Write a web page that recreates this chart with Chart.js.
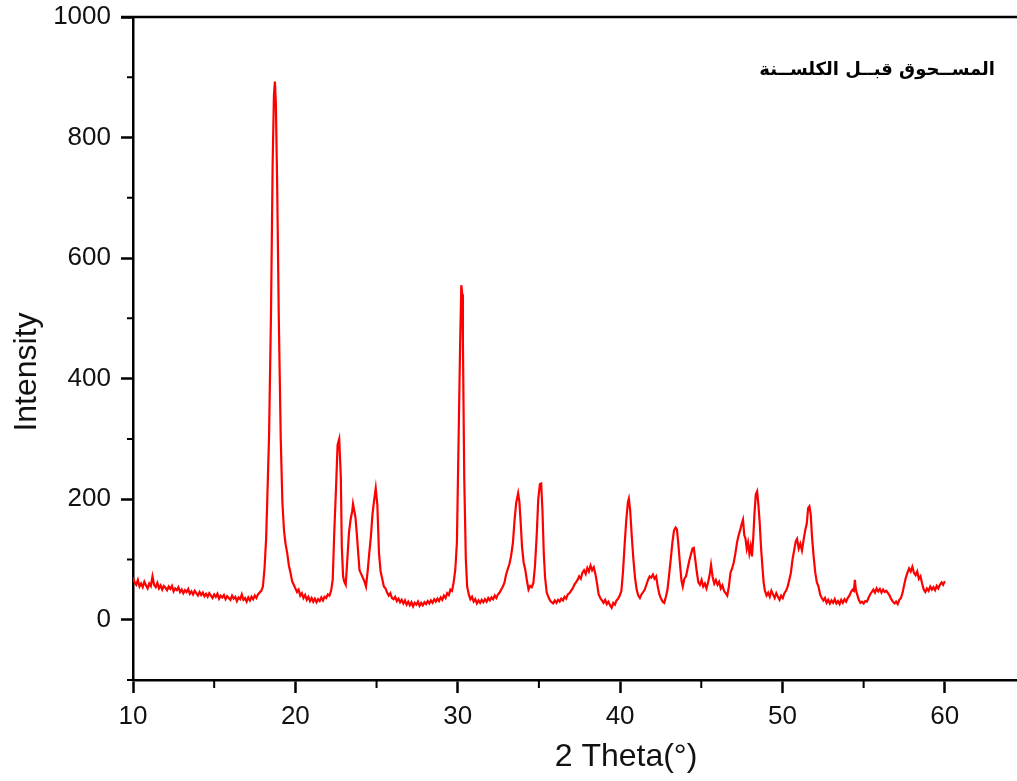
<!DOCTYPE html>
<html>
<head>
<meta charset="utf-8">
<title>XRD</title>
<script src="https://cdn.jsdelivr.net/npm/chart.js@4.4.0/dist/chart.umd.min.js"></script>
<style>
    html, body { margin: 0; padding: 0; background: #fff; overflow: hidden; }
    #wrap { width: 1040px; height: 781px; }
</style>
</head>
<body>
<div id="wrap"><canvas id="xrd" width="1040" height="781"></canvas></div>
<script>
// diffraction pattern: 2-theta (deg) and counts
const twoTheta = [
    10.0, 10.1, 10.2, 10.3, 10.4, 10.5, 10.6, 10.7, 10.8, 10.9,
    11.0, 11.1, 11.2, 11.3, 11.4, 11.5, 11.6, 11.7, 11.8, 11.9,
    12.0, 12.1, 12.2, 12.3, 12.4, 12.5, 12.6, 12.7, 12.8, 12.9,
    13.0, 13.1, 13.2, 13.3, 13.4, 13.5, 13.6, 13.7, 13.8, 13.9,
    14.0, 14.1, 14.2, 14.3, 14.4, 14.5, 14.6, 14.7, 14.8, 14.9,
    15.0, 15.1, 15.2, 15.3, 15.4, 15.5, 15.6, 15.7, 15.8, 15.9,
    16.0, 16.1, 16.2, 16.3, 16.4, 16.5, 16.6, 16.7, 16.8, 16.9,
    17.0, 17.1, 17.2, 17.3, 17.4, 17.5, 17.6, 17.7, 17.8, 17.9,
    18.0, 18.1, 18.2, 18.26, 18.38, 18.5, 18.6, 18.68, 18.74, 18.8,
    18.88, 18.98, 19.1, 19.2, 19.3, 19.4, 19.5, 19.6, 19.7, 19.8,
    19.9, 20.0, 20.1, 20.2, 20.3, 20.4, 20.5, 20.6, 20.7, 20.8,
    20.9, 21.0, 21.1, 21.2, 21.3, 21.4, 21.5, 21.6, 21.7, 21.8,
    21.9, 22.0, 22.1, 22.2, 22.3, 22.4, 22.5, 22.6, 22.7, 22.8,
    22.86, 22.94, 23.0, 23.1, 23.2, 23.3, 23.4, 23.5, 23.55, 23.62,
    23.7, 23.78, 23.87, 23.95, 24.05, 24.15, 24.25, 24.35, 24.45, 24.55,
    24.65, 24.75, 24.85, 24.95, 25.05, 25.15, 25.25, 25.35, 25.45, 25.55,
    25.65, 25.75, 25.85, 25.95, 26.05, 26.15, 26.25, 26.35, 26.45, 26.55,
    26.65, 26.75, 26.85, 26.95, 27.05, 27.15, 27.25, 27.35, 27.45, 27.55,
    27.65, 27.75, 27.85, 27.95, 28.05, 28.15, 28.25, 28.35, 28.45, 28.55,
    28.65, 28.75, 28.85, 28.95, 29.05, 29.15, 29.25, 29.35, 29.45, 29.55,
    29.65, 29.75, 29.85, 29.95, 30.05, 30.15, 30.22, 30.28, 30.32, 30.4,
    30.5, 30.58, 30.68, 30.78, 30.88, 30.98, 31.08, 31.18, 31.28, 31.38,
    31.48, 31.58, 31.68, 31.78, 31.88, 31.98, 32.08, 32.18, 32.28, 32.38,
    32.48, 32.58, 32.68, 32.78, 32.88, 32.98, 33.08, 33.18, 33.28, 33.4,
    33.5, 33.6, 33.72, 33.8, 33.88, 33.96, 34.06, 34.16, 34.26, 34.36,
    34.46, 34.56, 34.66, 34.76, 34.86, 34.96, 35.06, 35.14, 35.22, 35.3,
    35.38, 35.48, 35.58, 35.68, 35.78, 35.88, 35.98, 36.08, 36.18, 36.28,
    36.38, 36.48, 36.58, 36.68, 36.78, 36.88, 36.98, 37.08, 37.18, 37.28,
    37.38, 37.48, 37.58, 37.68, 37.78, 37.88, 37.98, 38.08, 38.18, 38.28,
    38.38, 38.48, 38.58, 38.68, 38.78, 38.88, 38.98, 39.08, 39.18, 39.28,
    39.38, 39.48, 39.58, 39.68, 39.78, 39.88, 39.98, 40.08, 40.18, 40.28,
    40.38, 40.48, 40.54, 40.62, 40.72, 40.82, 40.92, 41.02, 41.12, 41.22,
    41.32, 41.42, 41.52, 41.62, 41.72, 41.82, 41.92, 42.02, 42.12, 42.22,
    42.32, 42.42, 42.52, 42.62, 42.72, 42.82, 42.92, 43.02, 43.12, 43.22,
    43.32, 43.42, 43.5, 43.58, 43.68, 43.78, 43.86, 43.96, 44.06, 44.16,
    44.26, 44.36, 44.46, 44.54, 44.62, 44.72, 44.82, 44.92, 45.02, 45.12,
    45.22, 45.32, 45.42, 45.52, 45.6, 45.7, 45.8, 45.9, 46.0, 46.1,
    46.2, 46.3, 46.4, 46.5, 46.6, 46.7, 46.8, 46.9, 47.0, 47.1,
    47.2, 47.3, 47.4, 47.5, 47.57, 47.65, 47.72, 47.8, 47.88, 47.96,
    48.04, 48.12, 48.2, 48.28, 48.36, 48.44, 48.52, 48.6, 48.68, 48.76,
    48.84, 48.92, 49.02, 49.12, 49.22, 49.32, 49.42, 49.52, 49.62, 49.72,
    49.82, 49.92, 50.02, 50.12, 50.22, 50.32, 50.42, 50.52, 50.62, 50.72,
    50.82, 50.9, 51.0, 51.1, 51.2, 51.3, 51.4, 51.5, 51.58, 51.66,
    51.74, 51.82, 51.92, 52.02, 52.12, 52.22, 52.32, 52.42, 52.52, 52.62,
    52.72, 52.82, 52.92, 53.02, 53.12, 53.22, 53.32, 53.42, 53.52, 53.62,
    53.72, 53.82, 53.92, 54.02, 54.12, 54.22, 54.32, 54.4, 54.46, 54.52,
    54.6, 54.7, 54.8, 54.9, 55.0, 55.1, 55.2, 55.3, 55.4, 55.5,
    55.6, 55.7, 55.8, 55.9, 56.0, 56.1, 56.2, 56.3, 56.4, 56.5,
    56.6, 56.7, 56.8, 56.9, 57.0, 57.1, 57.2, 57.3, 57.4, 57.5,
    57.6, 57.7, 57.8, 57.9, 58.0, 58.1, 58.2, 58.3, 58.4, 58.5,
    58.6, 58.7, 58.8, 58.9, 59.0, 59.1, 59.2, 59.3, 59.4, 59.5,
    59.6, 59.7, 59.8, 59.9, 60.0
];

const counts = [
    70, 62, 58, 66, 55, 60, 54, 63, 57, 52,
    60, 56, 72, 58, 54, 61, 52, 57, 50, 56,
    53, 49, 55, 51, 56, 47, 52, 49, 54, 46,
    50, 44, 49, 46, 51, 43, 47, 42, 48, 44,
    40, 46, 41, 45, 39, 43, 38, 44, 40, 36,
    42, 38, 43, 35, 40, 37, 41, 34, 39, 36,
    33, 40, 35, 38, 31, 37, 34, 42, 33, 36,
    30, 37, 32, 38, 34, 40, 36, 42, 45, 48,
    55, 85, 135, 190, 305, 510, 755, 870, 893, 855,
    720, 500, 300, 195, 148, 125, 110, 90, 78, 64,
    58, 52, 46, 50, 40, 44, 36, 41, 33, 38,
    31, 36, 30, 35, 29, 34, 31, 37, 32, 38,
    36, 42, 40, 48, 66, 148, 215, 290, 300, 237,
    121, 72, 64, 58, 100, 144, 166, 180, 192, 182,
    170, 144, 111, 82, 76, 70, 64, 55, 80, 110,
    138, 175, 198, 218, 190, 111, 80, 68, 55, 52,
    45, 40, 44, 36, 34, 38, 31, 35, 29, 33,
    27, 32, 25, 30, 24, 29, 22, 28, 25, 30,
    23, 28, 24, 29, 26, 31, 27, 32, 28, 34,
    30, 35, 31, 37, 33, 40, 36, 44, 41, 50,
    48, 62, 83, 128, 295, 461, 555, 540, 460, 237,
    100, 55, 42, 34, 38, 30, 34, 27, 32, 28,
    33, 29, 34, 30, 36, 32, 37, 34, 40, 36,
    42, 45, 50, 55, 62, 75, 84, 92, 105, 128,
    165, 194, 210, 195, 160, 121, 95, 83, 65, 50,
    56, 54, 61, 90, 138, 200, 225, 226, 180, 110,
    70, 45, 38, 32, 29, 27, 32, 28, 33, 30,
    35, 32, 38, 35, 42, 44, 48, 52, 58, 62,
    66, 72, 68, 78, 82, 76, 86, 80, 90, 82,
    87, 76, 60, 42, 36, 32, 28, 33, 26, 30,
    24, 20, 28, 25, 32, 35, 40, 48, 80, 125,
    165, 195, 201, 182, 138, 100, 70, 50, 40, 36,
    42, 46, 50, 58, 66, 72, 70, 75, 68, 72,
    55, 42, 35, 30, 28, 38, 50, 75, 100, 128,
    148, 153, 150, 128, 95, 65, 55, 68, 72, 85,
    98, 108, 118, 119, 102, 80, 62, 58, 66, 55,
    60, 52, 62, 75, 91, 71, 60, 66, 58, 63,
    52, 57, 48, 44, 40, 55, 78, 85, 95, 110,
    128, 140, 149, 160, 166, 140, 135, 118, 128, 110,
    122, 105, 135, 178, 208, 213, 190, 160, 120, 90,
    62, 48, 40, 45, 38, 48, 42, 36, 44, 38,
    33, 40, 36, 44, 48, 55, 66, 78, 100, 115,
    130, 134, 118, 126, 115, 132, 148, 160, 185, 188,
    175, 138, 105, 78, 62, 55, 42, 36, 32, 36,
    28, 33, 27, 32, 28, 34, 27, 31, 26, 33,
    28, 34, 30, 36, 40, 46, 50, 48, 66, 50,
    42, 33, 28, 30, 27, 31, 30, 36, 42, 46,
    50, 45, 52, 47, 51, 45, 50, 46, 48, 44,
    40, 34, 30, 27, 30, 26, 33, 36, 45, 58,
    70, 78, 85, 80, 88, 78, 74, 80, 68, 72,
    60, 50, 46, 52, 48, 55, 50, 54, 49, 56,
    52, 58, 62, 58, 64
];

// axis ranges and labelled ticks
const xRange = [10, 65];
const yRange = [-100, 1000];
const xLabelTicks = [10, 20, 30, 40, 50, 60];
const yLabelTicks = [0, 200, 400, 600, 800, 1000];
const xMinorTicks = [15, 25, 35, 45, 55, 65];
const yMinorTicks = [-100, 100, 300, 500, 700, 900];

const sampleLabel = 'المســحوق قبــل الكلســنة';
const xTitle = '2 Theta(°)';
const yTitle = 'Intensity';

const points = twoTheta.map((t, i) => ({ x: t, y: counts[i] }));

const AXIS_FONT = '"Liberation Sans", Arial, sans-serif';

// frame top line, minor ticks, axis titles and sample name
const decorations = {
    id: 'decorations',
    afterDraw(chart) {
        const { ctx, chartArea, scales } = chart;
        const xs = scales.x, ys = scales.y;
        ctx.save();
        ctx.strokeStyle = '#000';
        ctx.lineWidth = 2.5;

        ctx.beginPath();
        ctx.moveTo(chartArea.left - 12, chartArea.top);
        ctx.lineTo(chartArea.right, chartArea.top);
        ctx.stroke();

        ctx.lineWidth = 2;
        ctx.beginPath();
        xMinorTicks.forEach(v => {
            const px = xs.getPixelForValue(v);
            ctx.moveTo(px, chartArea.bottom);
            ctx.lineTo(px, chartArea.bottom + 8);
        });
        yMinorTicks.forEach(v => {
            const py = ys.getPixelForValue(v);
            ctx.moveTo(chartArea.left, py);
            ctx.lineTo(chartArea.left - 6, py);
        });
        ctx.stroke();

        ctx.fillStyle = '#111';
        ctx.textBaseline = 'middle';
        ctx.textAlign = 'center';
        ctx.font = '32px ' + AXIS_FONT;
        ctx.fillText(xTitle, 626, 757);

        ctx.save();
        ctx.translate(27, 372);
        ctx.rotate(-Math.PI / 2);
        ctx.fillText(yTitle, 0, 0);
        ctx.restore();

        ctx.fillStyle = '#000';
        ctx.textAlign = 'right';
        ctx.font = 'bold 18px "DejaVu Sans", sans-serif';
        ctx.fillText(sampleLabel, 995, 70);
        ctx.restore();
    }
};

const ctx = document.getElementById('xrd');

new Chart(ctx, {
    type: 'line',
    data: {
        datasets: [{
            data: points,
            borderColor: '#ff0000',
            borderWidth: 2.2,
            pointRadius: 0,
            tension: 0,
            fill: false
        }]
    },
    options: {
        responsive: false,
        devicePixelRatio: 1,
        animation: false,
        layout: { padding: { top: 17, right: 14, left: 0, bottom: 0 } },
        plugins: {
            legend: { display: false },
            tooltip: { enabled: false }
        },
        scales: {
            x: {
                type: 'linear',
                min: xRange[0],
                max: xRange[1],
                afterFit: s => { s.height = 101; s.paddingLeft = 0; s.paddingRight = 0; },
                afterBuildTicks: s => { s.ticks = xLabelTicks.map(v => ({ value: v })); },
                border: { color: '#000', width: 2.5 },
                grid: { drawOnChartArea: false, tickLength: 13, tickWidth: 2.5, tickColor: '#000' },
                ticks: {
                    color: '#111',
                    font: { family: AXIS_FONT, size: 26 },
                    padding: 8,
                    maxRotation: 0,
                    callback: v => String(v)
                }
            },
            y: {
                min: yRange[0],
                max: yRange[1],
                afterFit: s => { s.width = 133; s.paddingTop = 0; s.paddingBottom = 0; },
                afterBuildTicks: s => { s.ticks = yLabelTicks.map(v => ({ value: v })); },
                border: { color: '#000', width: 2.5 },
                grid: { drawOnChartArea: false, tickLength: 12, tickWidth: 2.5, tickColor: '#000' },
                ticks: {
                    color: '#111',
                    font: { family: AXIS_FONT, size: 26 },
                    padding: 10,
                    callback: v => String(v)
                }
            }
        }
    },
    plugins: [decorations]
});
</script>
</body>
</html>
